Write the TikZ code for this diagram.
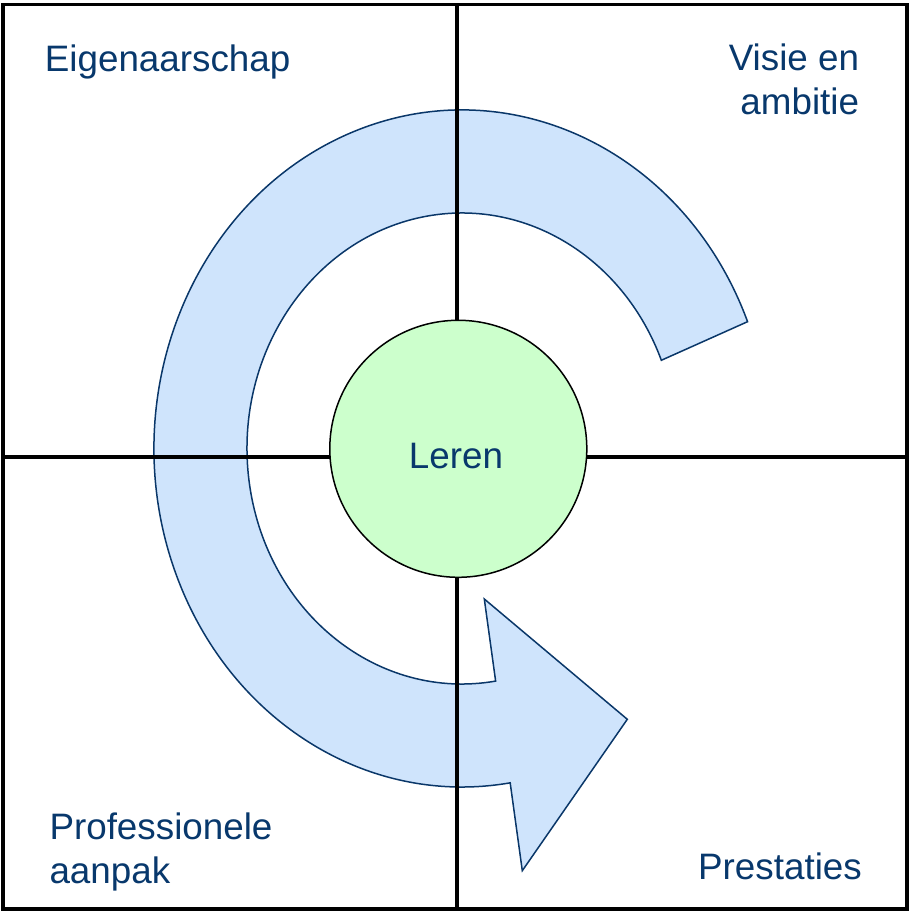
\documentclass[tikz,border=0pt]{standalone}
\usepackage{fontspec}
\setmainfont{Liberation Sans}
\usetikzlibrary{calc}
\definecolor{arrowfill}{RGB}{207,228,252}
\definecolor{arrowline}{RGB}{10,55,105}
\definecolor{txt}{RGB}{8,56,108}
\definecolor{greenfill}{RGB}{204,255,204}
\tikzset{
  gridline/.style={draw=black, line width=3.5pt},
  cyclearrow/.style={fill=arrowfill, draw=arrowline, line width=1.5pt, line join=miter},
  hub/.style={circle, draw=black, line width=1.5pt, fill=greenfill, minimum size=257pt, inner sep=0pt},
  lbl/.style={text=txt, inner sep=0pt, font={\fontsize{36.8}{43.5}\selectfont}}
}
\begin{document}
\begin{tikzpicture}[x=1pt,y=1pt]
\useasboundingbox (0,0) rectangle (910,913);
% circular arrow
\coordinate (C) at (462,464.5);
\coordinate (barbL) at (522.3,42.3);
\coordinate (tip) at (627.3,193.7);
\coordinate (barbT) at (484.3,314);
\path (C) ++(279:215 and 235.5) coordinate (ijoin);
\draw[cyclearrow] (C) ++(22:308 and 338.5)
  arc[start angle=22, end angle=279, x radius=308, y radius=338.5]
  -- (barbL) -- (tip) -- (barbT) -- (ijoin)
  arc[start angle=279, end angle=22, x radius=215, y radius=235.5]
  -- cycle;
% grid
\coordinate (tl) at (3,908.5);
\coordinate (br) at (907,4);
\coordinate (mt) at (457,908.5);
\coordinate (mb) at (457,4);
\coordinate (ml) at (3,456);
\coordinate (mr) at (907,456);
\draw[gridline] (tl) rectangle (br);
\draw[gridline] (mt) -- (mb);
\draw[gridline] (ml) -- (mr);
% hub
\node[hub] (hub) at (458.3,464.2) {};
\node[lbl, anchor=base] (leren) at (456,444) {Leren};
% quadrant labels
\node[lbl, anchor=base west] (eigen) at (44.7,841) {Eigenaarschap};
\node[lbl, anchor=base east, align=right] (visie) at (859.3,798.7) {Visie en\\ambitie};
\node[lbl, anchor=base west, align=left] (prof) at (49.3,29.7) {Professionele\\aanpak};
\node[lbl, anchor=base east] (prest) at (862,33.7) {Prestaties};
\end{tikzpicture}
\end{document}
